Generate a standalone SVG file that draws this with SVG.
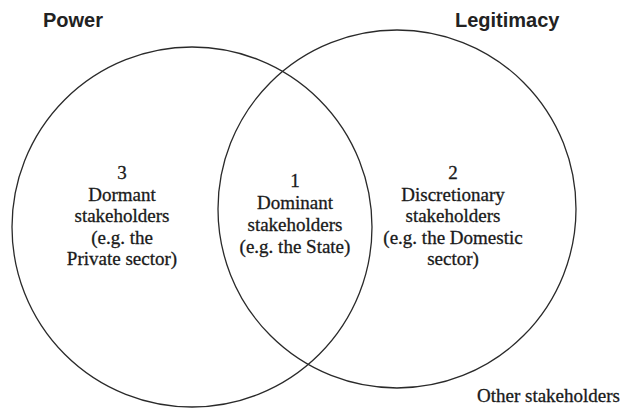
<svg xmlns="http://www.w3.org/2000/svg" width="621" height="408" viewBox="0 0 621 408">
<style>
.c{fill:none;stroke:#2a2a2a;stroke-width:1.3}
.h{font-family:"Liberation Sans",Arial,sans-serif;font-weight:bold;font-size:20px;fill:#222}
.t{font-family:"Liberation Serif","Times New Roman",serif;font-size:19px;fill:#1a1a1a;stroke:#1a1a1a;stroke-width:0.3;text-anchor:middle}
</style>
<rect width="621" height="408" fill="#fff"/>
<g id="power">
<circle class="c" cx="192" cy="227" r="180"/>
<text class="h" x="43" y="27">Power</text>
</g>
<g id="legitimacy">
<circle class="c" cx="397" cy="209" r="179"/>
<text class="h" x="455" y="27">Legitimacy</text>
</g>
<g id="dormant">
<text class="t" x="122" y="179">3</text>
<text class="t" x="122" y="200.5">Dormant</text>
<text class="t" x="122" y="222">stakeholders</text>
<text class="t" x="122" y="243.5">(e.g. the</text>
<text class="t" x="122" y="265">Private sector)</text>
</g>
<g id="dominant">
<text class="t" x="295" y="187">1</text>
<text class="t" x="295" y="209">Dominant</text>
<text class="t" x="295" y="231">stakeholders</text>
<text class="t" x="295" y="253">(e.g. the State)</text>
</g>
<g id="discretionary">
<text class="t" x="453" y="179">2</text>
<text class="t" x="453" y="200.5">Discretionary</text>
<text class="t" x="453" y="222">stakeholders</text>
<text class="t" x="453" y="243.5">(e.g. the Domestic</text>
<text class="t" x="453" y="265">sector)</text>
</g>
<g id="other">
<text class="t" x="477" y="402" style="text-anchor:start">Other stakeholders</text>
</g>
<g id="connectors"/>
</svg>
